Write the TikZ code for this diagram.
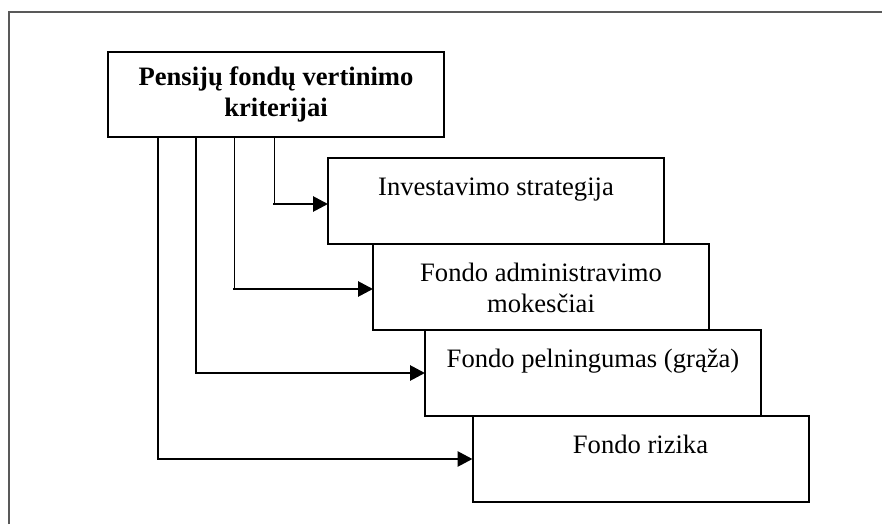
\documentclass[tikz,border=0pt]{standalone}
\usepackage{fontspec}
\setmainfont{Liberation Serif}
\usetikzlibrary{arrows.meta, positioning, calc}

\newcommand{\critlabel}[1]{\parbox[c][43pt][t]{168pt}{\centering\vspace*{8pt}\strut#1\strut}}

\begin{document}
\begin{tikzpicture}[x=0.5pt, y=-0.5pt, >={Triangle[length=7.5pt, width=7.5pt]}]
	\tikzstyle{head} = [draw, line width=1pt, outer sep=0pt, inner sep=0pt, minimum width=168pt, minimum height=42.5pt, align=center, font=\fontsize{13.3}{15.3}\selectfont\bfseries]
	\tikzstyle{crit} = [draw, line width=1pt, outer sep=0pt, inner sep=0pt, anchor=north west, font=\fontsize{13.3}{15.3}\selectfont]
	\tikzstyle{stem} = [line width=0.75pt]
	\tikzstyle{feed} = [->, line width=1.4pt, line cap=rect]
	\tikzstyle{frame} = [draw=black!65, line width=0.75pt]

	\useasboundingbox (0,0) rectangle (882,524);
	\draw[frame] (9,524) -- (9,12) -- (882,12);

	\node[head] (root) at (276,94.75) {Pensijų fondų vertinimo\\kriterijai};

	\node[crit] (b1) at (328,158) {\critlabel{Investavimo strategija}};
	\node[crit, xshift=22.5pt] (b2) at (b1.south west) {\critlabel{Fondo administravimo\\mokesčiai}};
	\node[crit, xshift=26pt] (b3) at (b2.south west) {\critlabel{Fondo pelningumas (grąža)}};
	\node[crit, xshift=23.75pt] (b4) at (b3.south west) {\critlabel{Fondo rizika}};

	% connectors from the criteria box
	\foreach \b/\x/\dy in {b1/274.5/-1.5pt, b2/234.5/-1pt, b3/196/0pt, b4/158/0pt} {
		\coordinate (t\b) at ([yshift=\dy]\b.west);
		\coordinate (k\b) at (\x,0 |- t\b);
		\draw[stem] (\x,0 |- root.south) -- (k\b);
		\draw[feed] (k\b) -- (t\b);
	}
\end{tikzpicture}
\end{document}
